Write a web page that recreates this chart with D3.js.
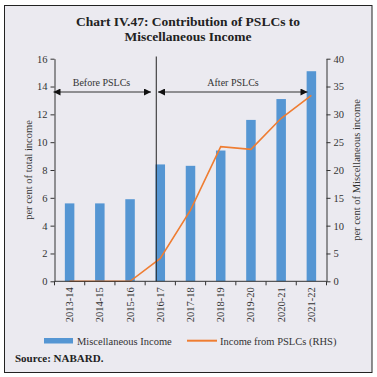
<!DOCTYPE html>
<html><head><meta charset="utf-8">
<script src="https://cdn.jsdelivr.net/npm/d3@7"></script>
<style>html,body{margin:0;padding:0;background:#fff;}svg{display:block;}</style>
</head><body>
<script>
const categories = ["2013-14","2014-15","2015-16","2016-17","2017-18","2018-19","2019-20","2020-21","2021-22"];
const miscIncome = [5.6,5.6,5.9,8.4,8.3,9.4,11.6,13.1,15.1];
const pslcIncome = [0,0,0,4.1,12.8,24.2,23.7,29.3,33.4];
const leftTicks = [0,2,4,6,8,10,12,14,16];
const rightTicks = [0,5,10,15,20,25,30,35,40];

const W=377,H=377;
const svg=d3.select("body").append("svg").attr("width",W).attr("height",H);
const serif="'Liberation Serif','DejaVu Serif',serif";
svg.append("rect").attr("x",4.5).attr("y",5.5).attr("width",367.5).attr("height",367).attr("fill","#ebeaf0").attr("stroke","#222").attr("stroke-width",1);

const title=svg.append("text").attr("text-anchor","middle").attr("font-family",serif).attr("font-weight","bold").attr("font-size",13.5).attr("fill","#222");
title.append("tspan").attr("x",188).attr("y",25.5).text("Chart IV.47: Contribution of PSLCs to");
title.append("tspan").attr("x",188).attr("y",40.5).text("Miscellaneous Income");

const L=54.5,R=326.5,T=58.7,B=281.3;
const x=d3.scaleBand().domain(categories).range([L,R]);
const yL=d3.scaleLinear().domain([0,16]).range([B,T]);
const yR=d3.scaleLinear().domain([0,40]).range([B,T]);
const bw=9.5;

svg.selectAll("rect.bar").data(categories).enter().append("rect").attr("class","bar")
 .attr("x",d=>x(d)+x.bandwidth()/2-bw/2).attr("width",bw)
 .attr("y",(d,i)=>yL(miscIncome[i])).attr("height",(d,i)=>B-yL(miscIncome[i]))
 .attr("fill","#5596d3");

const line=d3.line().x((d,i)=>x(categories[i])+x.bandwidth()/2).y(d=>yR(d));
svg.append("path").datum(pslcIncome).attr("d",line).attr("fill","none").attr("stroke","#ef7d32").attr("stroke-width",1.6);

// axes
const fs=10.5;
const gl=svg.append("g").attr("transform",`translate(${L},0)`).call(d3.axisLeft(yL).tickValues(leftTicks).tickSize(4).tickSizeOuter(0));
const gr=svg.append("g").attr("transform",`translate(${R},0)`).call(d3.axisRight(yR).tickValues(rightTicks).tickSize(4).tickSizeOuter(0));
[gl,gr].forEach(g=>{g.selectAll("text").attr("font-family",serif).attr("font-size",fs).attr("fill","#333");g.selectAll("line,path").attr("stroke","#333");});

const gb=svg.append("g").attr("transform",`translate(0,${B})`);
gb.append("line").attr("x1",L).attr("x2",R).attr("stroke","#333");
const edges=categories.map(c=>x(c)).concat([R]);
gb.selectAll("line.t").data(edges).enter().append("line").attr("class","t").attr("x1",d=>d).attr("x2",d=>d).attr("y1",0).attr("y2",4).attr("stroke","#333");
gb.selectAll("text").data(categories).enter().append("text")
 .attr("transform",d=>`translate(${x(d)+x.bandwidth()/2+3.5},6) rotate(-90)`)
 .attr("text-anchor","end").attr("font-family",serif).attr("font-size",fs).attr("fill","#333").text(d=>d);

svg.append("text").attr("transform",`translate(32,170) rotate(-90)`).attr("text-anchor","middle").attr("font-family",serif).attr("font-size",fs).attr("fill","#333").text("per cent of total income");
svg.append("text").attr("transform",`translate(360,170) rotate(-90)`).attr("text-anchor","middle").attr("font-family",serif).attr("font-size",fs).attr("fill","#333").text("per cent of Miscellaneous income");

// divider and arrows
const vx=x("2016-17")+x.bandwidth()/2-4;
svg.append("line").attr("x1",vx).attr("x2",vx).attr("y1",56.5).attr("y2",B).attr("stroke","#222").attr("stroke-width",1);
const defs=svg.append("defs");
defs.append("marker").attr("id","ah").attr("viewBox","0 0 10 10").attr("refX",10).attr("refY",5).attr("markerWidth",8).attr("markerHeight",7).attr("markerUnits","userSpaceOnUse").attr("orient","auto-start-reverse")
 .append("path").attr("d","M0,0L10,5L0,10Z").attr("fill","#111");
const ay=92;
svg.append("line").attr("x1",L-1).attr("x2",151).attr("y1",ay).attr("y2",ay).attr("stroke","#333").attr("stroke-width",1).attr("marker-start","url(#ah)").attr("marker-end","url(#ah)");
svg.append("line").attr("x1",158).attr("x2",307.5).attr("y1",ay).attr("y2",ay).attr("stroke","#333").attr("stroke-width",1).attr("marker-start","url(#ah)").attr("marker-end","url(#ah)");
svg.append("text").attr("x",101.5).attr("y",86).attr("text-anchor","middle").attr("font-family",serif).attr("font-size",10).attr("fill","#333").text("Before PSLCs");
svg.append("text").attr("x",233).attr("y",86).attr("text-anchor","middle").attr("font-family",serif).attr("font-size",10).attr("fill","#333").text("After PSLCs");

// legend
svg.append("rect").attr("x",44).attr("y",338).attr("width",29).attr("height",5.5).attr("fill","#5596d3");
svg.append("text").attr("x",77).attr("y",344.5).attr("font-family",serif).attr("font-size",fs).attr("fill","#333").text("Miscellaneous Income");
svg.append("line").attr("x1",187).attr("x2",217).attr("y1",340.7).attr("y2",340.7).attr("stroke","#ef7d32").attr("stroke-width",2);
svg.append("text").attr("x",220).attr("y",344.5).attr("font-family",serif).attr("font-size",fs).attr("fill","#333").text("Income from PSLCs (RHS)");

svg.append("text").attr("x",15).attr("y",361.5).attr("font-family",serif).attr("font-weight","bold").attr("font-size",11).attr("fill","#222").text("Source: NABARD.");
</script>
</body></html>
